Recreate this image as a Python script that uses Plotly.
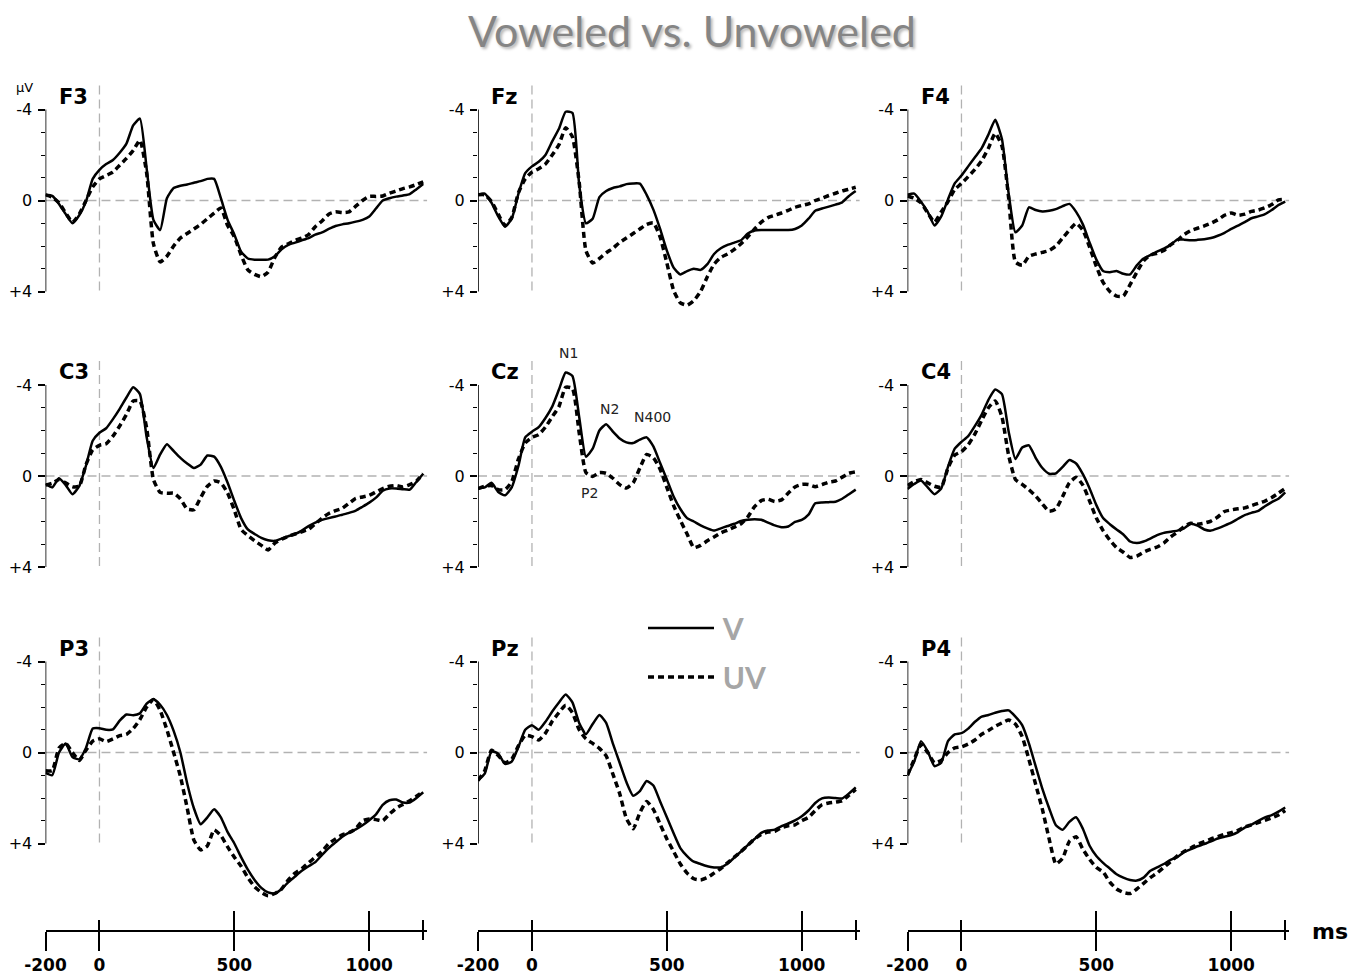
import plotly.graph_objects as go

# ---------------- data ----------------
TIME_MS = list(range(-200, 1201, 25))
CHANNELS = ["F3", "Fz", "F4", "C3", "Cz", "C4", "P3", "Pz", "P4"]

F3_V = [-0.25, -0.2, 0.15, 0.6, 1.0, 0.65, 0.05, -0.95, -1.35, -1.6,
        -1.78, -2.1, -2.5, -3.3, -3.6, -1.4, 0.85, 1.3, -0.1, -0.55,
        -0.65, -0.7, -0.78, -0.85, -0.95, -0.95, -0.1, 0.85, 1.5, 2.25,
        2.55, 2.6, 2.6, 2.6, 2.45, 2.15, 1.95, 1.85, 1.75, 1.65,
        1.5, 1.4, 1.25, 1.12, 1.05, 1.0, 0.93, 0.85, 0.7, 0.35,
        0.0, -0.1, -0.17, -0.22, -0.28, -0.5, -0.72]
F3_UV = [-0.25, -0.15, 0.1, 0.55, 0.95, 0.6, 0.0, -0.6, -0.95, -1.1,
         -1.25, -1.55, -1.85, -2.2, -2.65, -1.2, 1.9, 2.7, 2.45, 2.0,
         1.65, 1.45, 1.25, 1.05, 0.8, 0.55, 0.33, 1.1, 1.6, 2.4,
         3.05, 3.25, 3.35, 3.15, 2.5, 2.05, 1.9, 1.75, 1.65, 1.5,
         1.15, 0.9, 0.6, 0.5, 0.53, 0.5, 0.25, 0.0, -0.18, -0.18,
         -0.2, -0.32, -0.42, -0.52, -0.6, -0.7, -0.82]
FZ_V = [-0.25, -0.3, 0.1, 0.7, 1.15, 0.8, -0.3, -1.2, -1.5, -1.7,
        -2.0, -2.6, -3.15, -3.9, -3.85, -0.7, 1.0, 0.8, -0.15, -0.42,
        -0.55, -0.62, -0.72, -0.75, -0.74, -0.25, 0.4, 1.25, 2.2, 2.95,
        3.25, 3.1, 3.0, 3.05, 2.8, 2.35, 2.1, 1.95, 1.85, 1.75,
        1.45, 1.32, 1.3, 1.3, 1.3, 1.3, 1.3, 1.25, 1.1, 0.8,
        0.45, 0.35, 0.27, 0.18, 0.08, -0.2, -0.42]
FZ_UV = [-0.25, -0.25, 0.05, 0.6, 1.1, 0.75, -0.35, -0.95, -1.25, -1.4,
         -1.6, -2.0, -2.45, -3.2, -2.8, -0.8, 2.2, 2.75, 2.55, 2.3,
         2.1, 1.85, 1.65, 1.45, 1.25, 1.05, 0.98, 1.6, 2.75, 3.95,
         4.5, 4.6, 4.4, 4.0, 3.35, 2.8, 2.5, 2.35, 2.15, 1.9,
         1.6, 1.25, 0.95, 0.75, 0.65, 0.55, 0.43, 0.3, 0.22, 0.15,
         0.0, -0.1, -0.22, -0.32, -0.42, -0.5, -0.58]
F4_V = [-0.25, -0.3, 0.05, 0.5, 1.1, 0.7, -0.05, -0.75, -1.1, -1.5,
        -1.9, -2.3, -2.9, -3.55, -2.7, -0.3, 1.4, 1.1, 0.3, 0.42,
        0.48, 0.45, 0.38, 0.25, 0.15, 0.5, 1.05, 1.85, 2.6, 3.1,
        3.15, 3.1, 3.22, 3.25, 2.85, 2.55, 2.4, 2.25, 2.12, 1.95,
        1.72, 1.72, 1.75, 1.73, 1.7, 1.65, 1.55, 1.42, 1.25, 1.1,
        0.95, 0.78, 0.7, 0.6, 0.42, 0.2, 0.05]
F4_UV = [-0.2, -0.1, 0.1, 0.55, 0.95, 0.5, 0.05, -0.48, -0.75, -1.05,
         -1.37, -1.75, -2.3, -2.95, -2.4, -0.1, 2.7, 2.85, 2.45, 2.35,
         2.28, 2.2, 2.0, 1.65, 1.3, 1.0, 1.3, 2.05, 2.9, 3.6,
         4.0, 4.2, 4.2, 3.7, 3.15, 2.65, 2.4, 2.32, 2.2, 1.95,
         1.75, 1.5, 1.32, 1.22, 1.12, 1.0, 0.85, 0.65, 0.55, 0.65,
         0.6, 0.48, 0.42, 0.32, 0.18, -0.03, -0.05]
C3_V = [0.35, 0.5, 0.1, 0.4, 0.8, 0.45, -0.45, -1.55, -1.9, -2.1,
        -2.5, -2.95, -3.45, -3.9, -3.6, -1.7, -0.35, -0.95, -1.4, -1.1,
        -0.8, -0.55, -0.35, -0.5, -0.9, -0.85, -0.4, 0.3, 1.1, 1.85,
        2.35, 2.55, 2.72, 2.82, 2.85, 2.75, 2.65, 2.55, 2.4, 2.2,
        2.05, 1.93, 1.85, 1.78, 1.7, 1.62, 1.52, 1.35, 1.17, 0.95,
        0.65, 0.55, 0.55, 0.58, 0.6, 0.25, -0.1]
C3_UV = [0.4, 0.32, 0.15, 0.3, 0.47, 0.45, -0.5, -1.15, -1.35, -1.42,
         -1.75, -2.2, -2.7, -3.3, -3.3, -2.1, 0.15, 0.72, 0.76, 0.75,
         1.0, 1.45, 1.48, 0.95, 0.45, 0.22, 0.3, 0.75, 1.5, 2.35,
         2.62, 2.85, 3.05, 3.25, 2.95, 2.78, 2.65, 2.55, 2.45, 2.35,
         2.1, 1.85, 1.65, 1.52, 1.42, 1.2, 0.98, 0.92, 0.85, 0.7,
         0.55, 0.45, 0.42, 0.48, 0.38, 0.22, -0.1]
CZ_V = [0.55, 0.5, 0.3, 0.7, 0.85, 0.5, -0.45, -1.7, -1.95, -2.15,
        -2.55, -3.05, -3.8, -4.55, -4.4, -2.6, -0.85, -1.2, -2.0, -2.28,
        -1.95, -1.65, -1.48, -1.45, -1.6, -1.7, -1.3, -0.57, 0.15, 0.9,
        1.45, 1.85, 2.0, 2.17, 2.3, 2.4, 2.3, 2.2, 2.1, 1.98,
        1.92, 1.9, 1.92, 2.05, 2.17, 2.25, 2.22, 2.02, 1.93, 1.7,
        1.2, 1.16, 1.15, 1.13, 1.0, 0.8, 0.6]
CZ_UV = [0.55, 0.45, 0.42, 0.6, 0.6, 0.25, -0.75, -1.45, -1.7, -1.82,
         -2.15, -2.6, -3.05, -3.9, -3.85, -1.9, -0.15, 0.02, -0.15, -0.12,
         0.1, 0.38, 0.53, 0.3, -0.35, -0.95, -0.8, -0.3, 0.5, 1.3,
         1.95, 2.55, 3.15, 3.05, 2.85, 2.68, 2.5, 2.38, 2.25, 2.1,
         1.8, 1.35, 1.08, 1.02, 1.12, 1.05, 0.75, 0.48, 0.37, 0.37,
         0.47, 0.38, 0.27, 0.22, 0.05, -0.12, -0.18]
C4_V = [0.57, 0.35, 0.2, 0.5, 0.8, 0.55, -0.4, -1.2, -1.5, -1.75,
        -2.2, -2.7, -3.35, -3.8, -3.6, -1.95, -0.75, -1.25, -1.35, -0.8,
        -0.35, -0.1, -0.12, -0.4, -0.7, -0.55, -0.08, 0.55, 1.28, 1.85,
        2.12, 2.35, 2.57, 2.88, 2.95, 2.88, 2.75, 2.6, 2.5, 2.45,
        2.4, 2.3, 2.1, 2.18, 2.35, 2.4, 2.3, 2.18, 2.05, 1.88,
        1.72, 1.62, 1.53, 1.33, 1.15, 1.0, 0.72]
C4_UV = [0.42, 0.25, 0.15, 0.3, 0.45, 0.5, -0.35, -0.92, -1.07, -1.37,
         -1.85, -2.45, -3.0, -3.3, -2.6, -0.9, 0.15, 0.37, 0.6, 0.88,
         1.23, 1.55, 1.45, 0.9, 0.3, 0.06, 0.4, 1.1, 1.85, 2.4,
         2.82, 3.15, 3.35, 3.58, 3.52, 3.35, 3.22, 3.12, 2.95, 2.68,
         2.47, 2.22, 2.08, 2.12, 2.07, 1.98, 1.8, 1.56, 1.49, 1.44,
         1.4, 1.3, 1.2, 1.1, 0.95, 0.75, 0.55]
P3_V = [0.9, 1.0, 0.0, -0.4, 0.2, 0.3, -0.2, -1.05, -1.07, -1.0,
        -1.02, -1.4, -1.67, -1.64, -1.72, -2.15, -2.34, -2.1, -1.65, -0.95,
        0.0, 1.35, 2.45, 3.15, 2.85, 2.5, 2.85, 3.5, 4.0, 4.6,
        5.15, 5.6, 5.95, 6.15, 6.2, 6.0, 5.7, 5.45, 5.2, 5.0,
        4.82, 4.5, 4.2, 3.95, 3.7, 3.52, 3.38, 3.2, 2.98, 2.72,
        2.3, 2.1, 2.07, 2.2, 2.2, 2.0, 1.75]
P3_UV = [0.8, 0.8, -0.2, -0.4, 0.0, 0.35, -0.1, -0.5, -0.6, -0.48,
         -0.6, -0.74, -0.8, -1.05, -1.45, -2.0, -2.33, -1.85, -1.0, 0.0,
         1.05, 2.43, 3.85, 4.28, 4.1, 3.4, 3.65, 4.15, 4.6, 5.0,
         5.5, 5.9, 6.15, 6.3, 6.2, 6.0, 5.6, 5.3, 5.1, 4.85,
         4.6, 4.35, 4.0, 3.8, 3.62, 3.52, 3.35, 3.0, 2.92, 2.95,
         3.0, 2.7, 2.45, 2.28, 2.12, 1.92, 1.72]
PZ_V = [1.23, 0.93, -0.05, 0.05, 0.5, 0.4, -0.25, -1.0, -1.2, -1.0,
        -1.35, -1.8, -2.2, -2.55, -2.2, -1.3, -0.8, -1.25, -1.65, -1.3,
        -0.39, 0.45, 1.3, 1.9, 1.7, 1.25, 1.45, 2.15, 2.85, 3.55,
        4.2, 4.55, 4.8, 4.9, 5.0, 5.05, 5.05, 4.88, 4.62, 4.35,
        4.07, 3.8, 3.53, 3.43, 3.39, 3.24, 3.12, 2.98, 2.8, 2.55,
        2.22, 2.02, 1.98, 2.0, 2.02, 1.8, 1.53]
PZ_UV = [1.23, 0.8, -0.1, 0.13, 0.45, 0.3, -0.3, -0.75, -0.7, -0.55,
         -0.85, -1.37, -1.75, -2.08, -1.75, -1.0, -0.6, -0.4, -0.18, 0.15,
         0.95, 1.8, 2.9, 3.35, 2.65, 2.15, 2.5, 3.15, 3.8, 4.35,
         4.9, 5.3, 5.55, 5.6, 5.5, 5.3, 5.1, 4.85, 4.6, 4.35,
         4.08, 3.8, 3.6, 3.5, 3.46, 3.3, 3.22, 3.18, 3.0, 2.85,
         2.55, 2.3, 2.22, 2.18, 2.12, 1.88, 1.62]
P4_V = [1.0, 0.4, -0.5, -0.05, 0.6, 0.45, -0.5, -0.8, -0.85, -1.05,
        -1.35, -1.58, -1.65, -1.75, -1.82, -1.85, -1.58, -1.2, -0.4, 0.6,
        1.6, 2.45, 3.2, 3.4, 3.05, 2.85, 3.35, 4.1, 4.55, 4.85,
        5.1, 5.35, 5.5, 5.6, 5.63, 5.5, 5.2, 5.05, 4.9, 4.72,
        4.6, 4.38, 4.25, 4.12, 4.03, 3.9, 3.78, 3.7, 3.63, 3.5,
        3.3, 3.17, 3.0, 2.85, 2.75, 2.6, 2.42]
P4_UV = [1.0, 0.3, -0.35, 0.0, 0.45, 0.35, 0.0, -0.2, -0.25, -0.37,
         -0.55, -0.8, -0.97, -1.15, -1.3, -1.43, -1.25, -0.7, 0.3, 1.4,
         2.5, 3.8, 4.9, 4.65, 3.9, 3.7, 4.25, 4.7, 5.05, 5.25,
         5.7, 6.0, 6.15, 6.2, 6.0, 5.75, 5.5, 5.3, 5.05, 4.8,
         4.55, 4.35, 4.2, 4.03, 3.92, 3.8, 3.7, 3.6, 3.52, 3.42,
         3.27, 3.18, 3.08, 2.98, 2.88, 2.75, 2.55]

V_SERIES = [F3_V, FZ_V, F4_V, C3_V, CZ_V, C4_V, P3_V, PZ_V, P4_V]
UV_SERIES = [F3_UV, FZ_UV, F4_UV, C3_UV, CZ_UV, C4_UV, P3_UV, PZ_UV, P4_UV]
LEGEND_NAMES = ["V", "UV"]

Y_TICKS = [-4, 0, 4]
Y_TICK_TEXT = ["-4", "0", "+4"]
Y_MINOR = [-3, -2, -1, 1, 2, 3]
T_TICKS = [-200, 0, 500, 1000]
T_TICK_TEXT = ["-200", "0", "500", "1000"]
T_LONG = [-200, 500, 1000]
T_SHORT = [0, 1200]

COMP_NAMES = ["N1", "N2", "N400", "P2"]
COMP_MS = [134, 289, 445, 215]
COMP_UV = [-5.4, -2.94, -2.58, 0.76]

# ---------------- layout geometry ----------------
W, H = 1357, 975
COL_X0 = [45.5, 478.0, 907.5]        # pixel of -200 ms in each column
PX_PER_MS = 0.2698
X_RANGE = [-200, 1215]
ROW_ZERO = [200.5, 476.0, 752.5]     # pixel of 0 uV in each row
PX_PER_UV = 22.75
ROW_RANGE = [(5.3, -5.6), (5.3, -5.6), (6.6, -5.3)]
TIME_AXIS_Y = (H - 931) / H

TICK_FONT = dict(family="DejaVu Sans", size=16, color="black")
DASH_GREY = "#b2b2b2"

fig = go.Figure()
layout = {}
shapes = []
annotations = []

for i, ch in enumerate(CHANNELS):
    r, c = divmod(i, 3)
    n = i + 1
    xr = "x" if n == 1 else f"x{n}"
    yr = "y" if n == 1 else f"y{n}"
    xname = "xaxis" if n == 1 else f"xaxis{n}"
    yname = "yaxis" if n == 1 else f"yaxis{n}"

    x0 = COL_X0[c]
    x1 = x0 + (X_RANGE[1] - X_RANGE[0]) * PX_PER_MS
    ytop = ROW_ZERO[r] + ROW_RANGE[r][1] * PX_PER_UV
    ybot = ROW_ZERO[r] + ROW_RANGE[r][0] * PX_PER_UV

    fig.add_trace(go.Scatter(
        x=TIME_MS, y=V_SERIES[i], xaxis=xr, yaxis=yr, mode="lines",
        name="\u2009" + LEGEND_NAMES[0], legendgroup="V", showlegend=(i == 0),
        line=dict(color="black", width=2.5, shape="spline", smoothing=0.5)))
    fig.add_trace(go.Scatter(
        x=TIME_MS, y=UV_SERIES[i], xaxis=xr, yaxis=yr, mode="lines",
        name="\u2009" + LEGEND_NAMES[1], legendgroup="UV", showlegend=(i == 0),
        line=dict(color="black", width=3.5, dash="6px,4px",
                  shape="spline", smoothing=0.5)))

    xax = dict(domain=[x0 / W, x1 / W], range=X_RANGE, showgrid=False,
               zeroline=False, fixedrange=True, automargin=False)
    if r < 2:
        xax.update(visible=False, anchor=yr)
    else:
        xax.update(anchor="free", position=TIME_AXIS_Y, showline=True,
                   linecolor="black", linewidth=1.5,
                   ticks="outside", ticklen=19, tickwidth=1.5, tickcolor="black",
                   tickmode="array", tickvals=T_TICKS, ticktext=T_TICK_TEXT,
                   tickfont=dict(family="DejaVu Sans", size=17, color="black",
                                 weight="bold"),
                   ticklabelstandoff=0,
                   minor=dict(tickmode="array", tickvals=[1200], ticks="outside",
                              ticklen=8, tickwidth=1.5, tickcolor="black"))
        # companion axis drawing the upward half of the crossing ticks
        on = 10 + c
        layout[f"xaxis{on}"] = dict(
            overlaying=xr, anchor="free", position=TIME_AXIS_Y,
            domain=[x0 / W, x1 / W], range=X_RANGE, showgrid=False,
            zeroline=False, showline=False, showticklabels=False,
            ticks="inside", ticklen=20, tickwidth=1.5, tickcolor="black",
            tickmode="array", tickvals=T_LONG, fixedrange=True, automargin=False,
            minor=dict(tickmode="array", tickvals=T_SHORT, ticks="inside",
                       ticklen=11, tickwidth=1.5, tickcolor="black"))
        fig.add_trace(go.Scatter(x=[None], y=[None], xaxis=f"x{on}", yaxis=yr,
                                 showlegend=False, hoverinfo="skip"))
    layout[xname] = xax

    layout[yname] = dict(
        domain=[(H - ybot) / H, (H - ytop) / H], range=list(ROW_RANGE[r]),
        anchor=xr, showgrid=False, zeroline=False, showline=False,
        ticks="outside", ticklen=7, tickwidth=1.5, tickcolor="black",
        tickmode="array", tickvals=Y_TICKS, ticktext=Y_TICK_TEXT,
        tickfont=TICK_FONT, ticklabelstandoff=2, fixedrange=True,
        automargin=False,
        minor=dict(tickmode="array", tickvals=Y_MINOR, ticks="outside",
                   ticklen=4, tickwidth=1.2, tickcolor="black"))

    # y axis line only between -4 and +4
    shapes.append(dict(type="line", xref=xr, yref=yr, x0=X_RANGE[0], x1=X_RANGE[0],
                       y0=Y_TICKS[0], y1=Y_TICKS[-1],
                       line=dict(color="black", width=1.6)))
    # dashed baseline and stimulus onset
    shapes.append(dict(type="line", xref=xr, yref=yr, x0=X_RANGE[0], x1=X_RANGE[1],
                       y0=0, y1=0, layer="below",
                       line=dict(color=DASH_GREY, width=1.3, dash="9px,5px")))
    shapes.append(dict(type="line", xref=xr, yref=yr, x0=0, x1=0, y0=-5.05, y1=4.1,
                       layer="below",
                       line=dict(color=DASH_GREY, width=1.3, dash="9px,5px")))

    annotations.append(dict(text=f"<b>{ch}</b>", xref=f"{xr} domain", yref=yr,
                            x=0, y=-4.55, xanchor="left", yanchor="middle",
                            xshift=11, showarrow=False,
                            font=dict(family="DejaVu Sans", size=21, color="black")))

# component labels on Cz
for name, t, v in zip(COMP_NAMES, COMP_MS, COMP_UV):
    annotations.append(dict(text=name, xref="x5", yref="y5", x=t, y=v,
                            showarrow=False, xanchor="center", yanchor="middle",
                            font=dict(family="DejaVu Sans", size=14, color="#222222")))

annotations.append(dict(text="μV", xref="paper", yref="paper", x=24 / W, y=(H - 87) / H,
                        showarrow=False, xanchor="center", yanchor="middle",
                        font=dict(family="DejaVu Sans", size=13, color="black")))
annotations.append(dict(text="<b>ms</b>", xref="paper", yref="paper", x=1330 / W,
                        y=TIME_AXIS_Y, showarrow=False, xanchor="center",
                        yanchor="middle",
                        font=dict(family="DejaVu Sans", size=22, color="black")))

fig.update_layout(**layout)
fig.update_layout(
    width=W, height=H, margin=dict(l=0, r=0, t=0, b=0, autoexpand=False),
    paper_bgcolor="white", plot_bgcolor="white",
    title=dict(text="Voweled vs. Unvoweled", x=692 / W, y=(H - 32) / H,
               xanchor="center", yanchor="middle",
               font=dict(family="Lato", size=43, color="#858585",
                         shadow="2px 2px 3px #b5b5b5")),
    showlegend=True,
    legend=dict(x=643 / W, y=(H - 602) / H, xanchor="left", yanchor="top",
                itemwidth=66, tracegroupgap=7, bgcolor="rgba(0,0,0,0)",
                font=dict(family="Lato", size=30, color="#a6a6a6", weight="bold")),
    shapes=shapes, annotations=annotations,
)

fig.write_html("out.html")
